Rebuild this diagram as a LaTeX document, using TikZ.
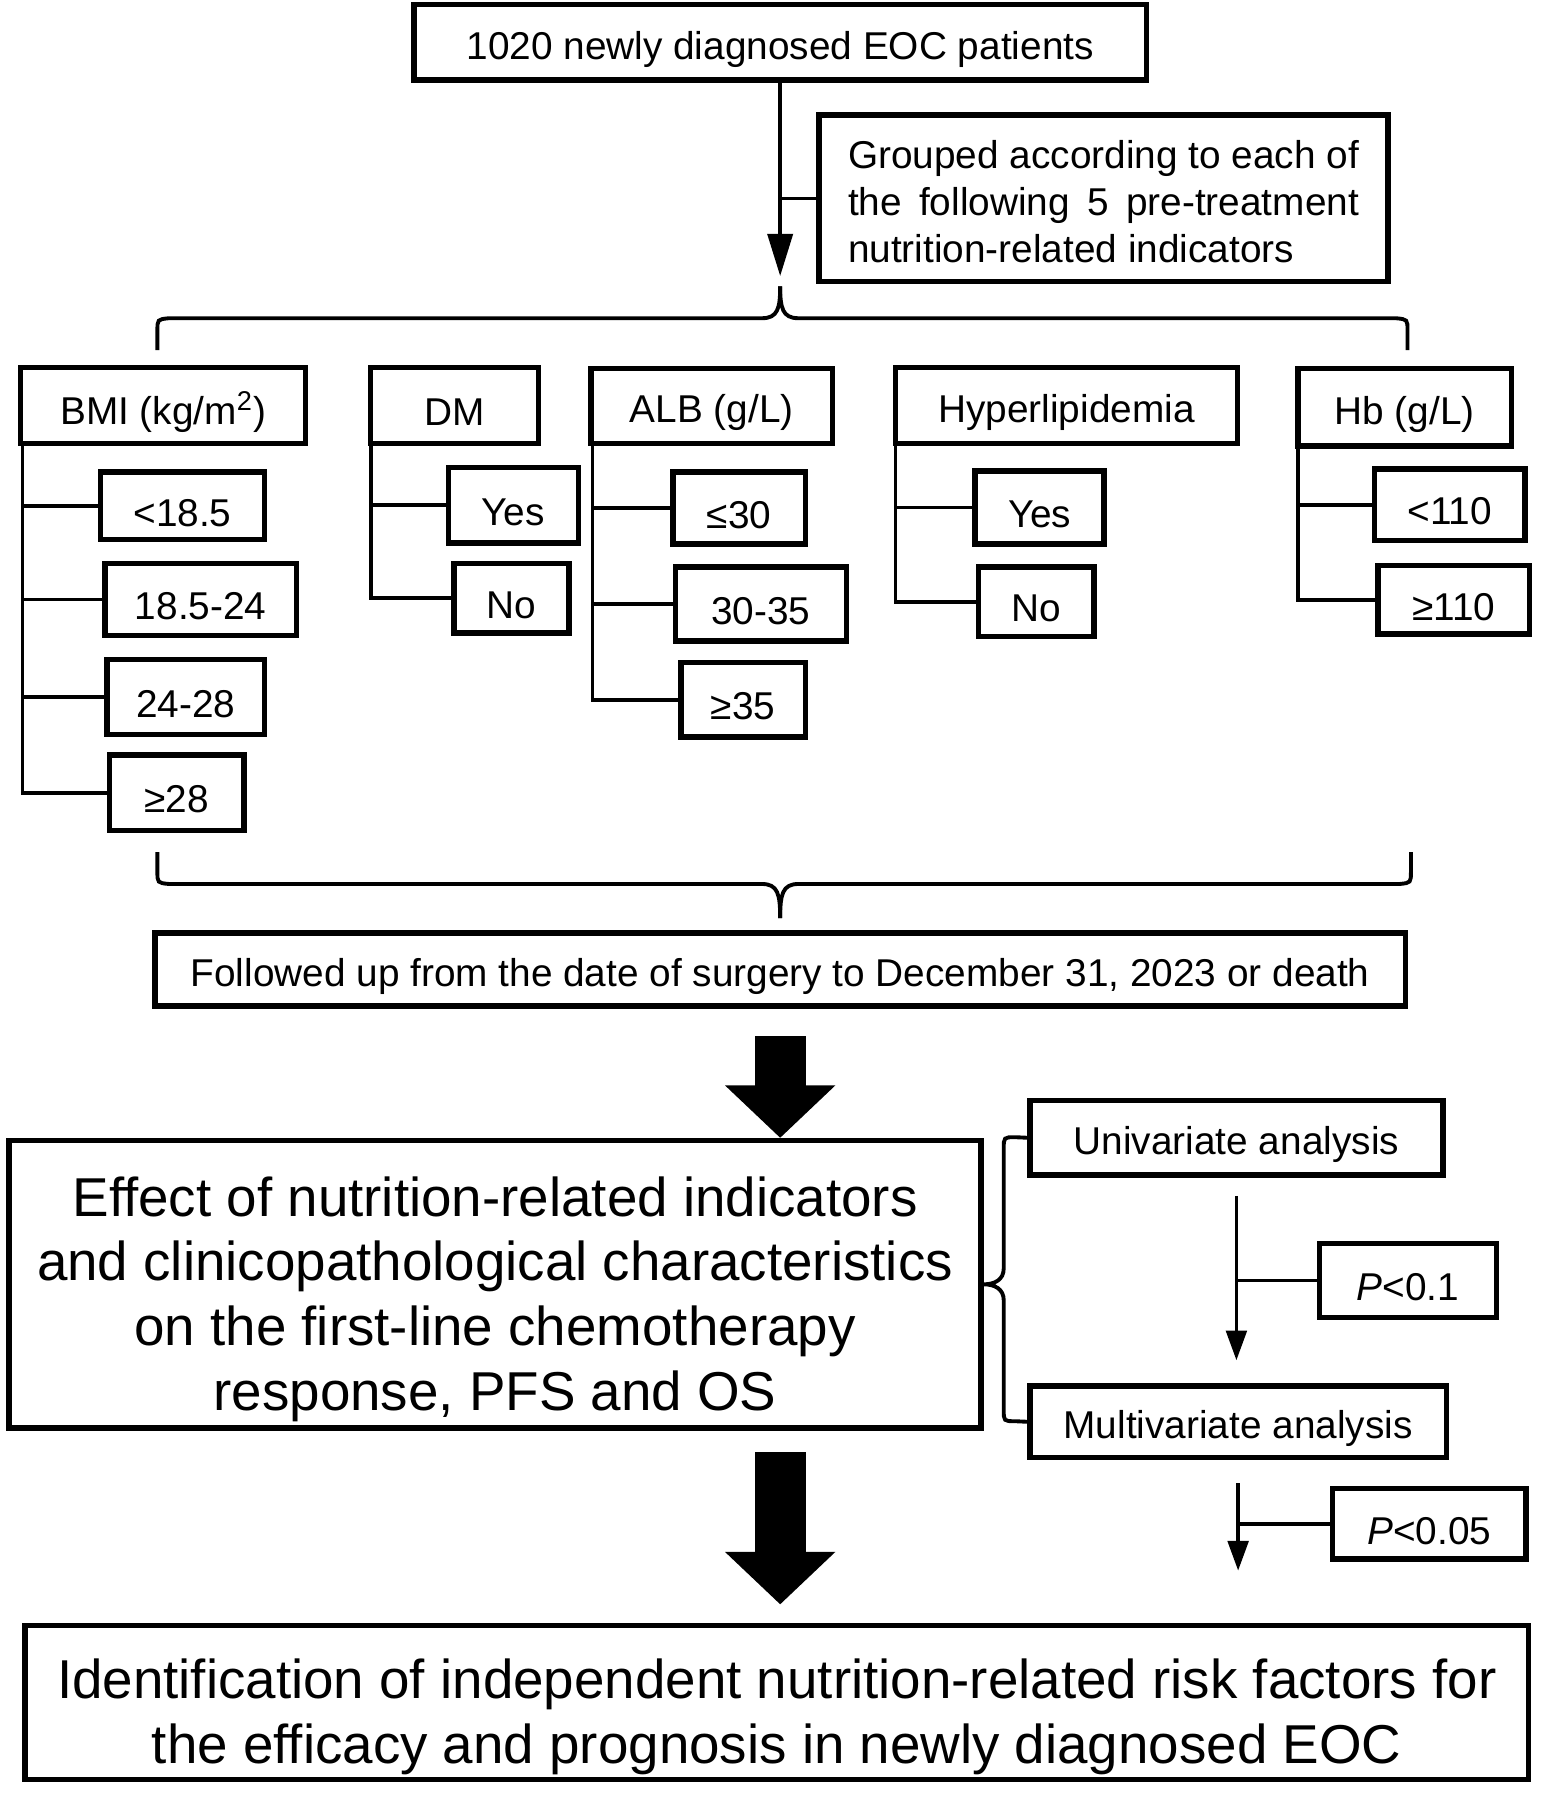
\documentclass[tikz,border=0pt]{standalone}
\usepackage{fontspec}
\setmainfont{Liberation Sans}
\usetikzlibrary{arrows.meta}
\newcommand{\fsmall}{\fontsize{17pt}{20.5pt}\selectfont}
\newcommand{\fbig}{\fontsize{24pt}{28.4pt}\selectfont}
\tikzset{
  box/.style={draw, line width=2.4pt, inner sep=0pt},
  boxtext/.style={inner sep=0pt, font=\fsmall, align=center, yshift=-3pt},
  bigtext/.style={font=\fbig, yshift=-3.5pt},
  conn/.style={line width=1.6pt},
  bracestyle/.style={line width=1.7pt},
  bigarrow/.style={line width=22.5pt, -{Triangle[length=23pt,width=47pt]}},
  sarrow/.style={conn, -{Triangle[length=13pt,width=9pt]}},
  toparrow/.style={conn, -{Triangle[length=18.5pt,width=11pt]}},
}
\newcommand{\bx}[7][]{\node[box, minimum width={(#5-#3)*0.5pt}, minimum height={(#6-#4)*0.5pt}] (#2) at ({(#3+#5)/2},{(#4+#6)/2}) {};
  \node[boxtext, #1] (#2-t) at (#2.center) {#7};}
\begin{document}
\begin{tikzpicture}[x=0.5pt,y=-0.5pt]
\useasboundingbox (0,0) rectangle (1357,1574.6);

% top part
\bx{top}{363}{4}{1005}{70}{1020 newly diagnosed EOC patients}
\bx[align=left, yshift=1.5pt]{grp}{718}{101}{1217}{247}{\makebox[224pt][s]{Grouped according to each of}\\\makebox[224pt][s]{the following 5 pre-treatment}\\nutrition-related indicators}
\coordinate (tip) at (684,242);
\draw[toparrow] (top.south) -- (top.south |- tip);
\draw[conn] (grp.west) -- (grp.west -| top.south);

% top brace
\draw[bracestyle] (138,307) -- (138,290) .. controls (138,280) .. (148,279) -- (668,279) .. controls (682,279) and (684,270) .. (684,251);
\draw[bracestyle] (1234,307) -- (1234,290) .. controls (1234,280) .. (1224,279) -- (700,279) .. controls (686,279) and (684,270) .. (684,251);

% indicator boxes
\bx{bmi}{18}{322}{268}{389}{BMI (kg/m\textsuperscript{2})}
\bx{dm}{325}{322}{472}{389}{DM}
\bx{alb}{518}{323}{730}{389}{ALB (g/L)}
\bx{hyp}{785}{322}{1085}{389}{Hyperlipidemia}
\bx{hb}{1138}{323}{1325}{391}{Hb (g/L)}

% BMI
\bx{b1}{88}{414}{232}{473}{<18.5}
\bx{b2}{92}{494}{260}{557}{18.5-24}
\bx{b3}{94}{578}{232}{644}{24-28}
\bx{b4}{96}{662}{214}{728}{≥28}
\foreach \c in {b1,b2,b3,b4} \draw[conn] ([xshift=2pt]bmi.south west) |- (\c.west);

% DM
\bx{d1}{393}{410}{507}{476}{Yes}
\bx{d2}{398}{494}{499}{555}{No}
\foreach \c in {d1,d2} \draw[conn] ([xshift=1.2pt]dm.south west) |- (\c.west);

% ALB
\bx{a1}{590}{414}{706}{477}{≤30}
\bx{a2}{592}{497}{742}{562}{30-35}
\bx{a3}{597}{581}{706}{646}{≥35}
\foreach \c in {a1,a2,a3} \draw[conn] ([xshift=2pt]alb.south west) |- (\c.west);

% Hyperlipidemia
\bx{h1}{855}{413}{968}{477}{Yes}
\bx{h2}{858}{497}{959}{558}{No}
\foreach \c in {h1,h2} \draw[conn] ([xshift=1.2pt]hyp.south west) |- (\c.west);

% Hb
\bx{g1}{1205}{411}{1337}{474}{<110}
\bx{g2}{1208}{496}{1341}{556}{≥110}
\foreach \c in {g1,g2} \draw[conn] ([xshift=1.2pt]hb.south west) |- (\c.west);

% bottom brace
\draw[bracestyle] (138,747) -- (138,764) .. controls (138,774) .. (148,775) -- (668,775) .. controls (682,775) and (684,784) .. (684,805);
\draw[bracestyle] (1237,747) -- (1237,764) .. controls (1237,774) .. (1227,775) -- (700,775) .. controls (686,775) and (684,784) .. (684,805);

\bx{fol}{136}{818}{1232}{882}{Followed up from the date of surgery to December 31, 2023 or death}

% effect box
\bx[bigtext]{eff}{8}{1000}{860}{1252}{Effect of nutrition-related indicators\\and clinicopathological characteristics\\on the first-line chemotherapy\\response, PFS and OS}
\draw[bigarrow] ([yshift=-12pt]fol.south) -- (fol.south |- eff.north);

% analysis
\bx{uni}{903}{965}{1265}{1030}{Univariate analysis}
\bx{mul}{903}{1215}{1268}{1278}{Multivariate analysis}
\bx{p1}{1157}{1090}{1312}{1155}{\textit{P}<0.1}
\bx{p2}{1168}{1305}{1338}{1367}{\textit{P}<0.05}
\draw[bracestyle] (uni.west) -- (890,997) .. controls (880,997) .. (880,1007) -- (880,1112) .. controls (880,1122) and (872,1126) .. (eff.east)
  .. controls (872,1126) and (880,1130) .. (880,1140) -- (880,1236) .. controls (880,1246) .. (890,1246) -- (mul.west);
\draw[sarrow] ([yshift=-8pt]uni.south) -- ([yshift=10pt]uni.south |- mul.north);
\draw[conn] (p1.west) -- (p1.west -| uni.south);
\coordinate (e2) at (1082,1377);
\draw[sarrow] ([yshift=-10pt]mul.south) -- (mul.south |- e2);
\draw[conn] (p2.west) -- (p2.west -| mul.south);

% identification
\bx[bigtext]{idn}{22}{1425}{1340}{1560}{Identification of independent nutrition-related risk factors for\\the efficacy and prognosis in newly diagnosed EOC}
\draw[bigarrow] ([yshift=-9.5pt]eff.south -| fol.south) -- ([yshift=8pt]idn.north -| fol.south);
\end{tikzpicture}
\end{document}
